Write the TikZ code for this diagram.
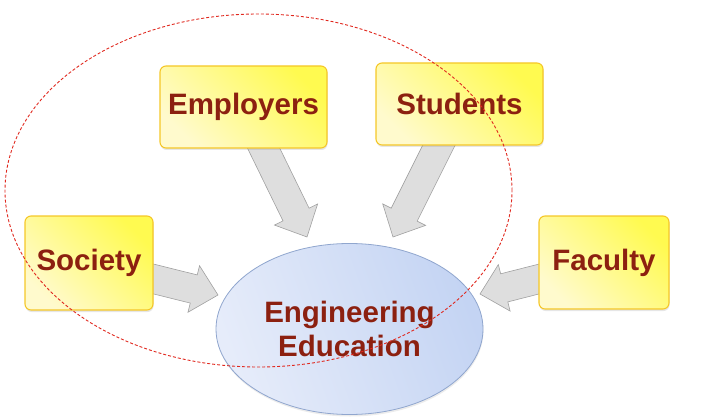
\documentclass[tikz,border=0pt]{standalone}
\usepackage{fontspec}
\setmainfont{Liberation Sans}
\usetikzlibrary{calc,shadows,shapes.geometric}

% block arrow from the centre of a box to a tip coordinate
\newcommand\blockarrow[3]{%
  \coordinate (#3) at ($(#2)!25pt!(#1)$);%
  \draw [arrowbody] ($(#1)!14.5pt!90:(#2)$) -- ($(#3)!14.5pt!-90:(#1)$) -- ($(#3)!24pt!-90:(#1)$) -- (#2) -- ($(#3)!24pt!90:(#1)$) -- ($(#3)!14.5pt!90:(#1)$) -- ($(#1)!14.5pt!-90:(#2)$) -- cycle;%
}

\begin{document}
\begin{tikzpicture}[x=1pt,y=-1pt,
  infobox/.style={rectangle, rounded corners=6pt, draw=r245g199b40, line width=1.1pt,
    left color=r255g250b205, right color=r255g250b80, shading angle=135,
    drop shadow={opacity=0.2, shadow xshift=0.5pt, shadow yshift=-2pt},
    text=r140g32b16, font=\fontsize{29.5}{34}\selectfont\bfseries},
  arrowbody/.style={fill=r222g222b222, draw=r160g160b160, line width=0.6pt, line join=miter},
  dashedring/.style={draw=r224g40b30, line width=0.9pt, dash pattern=on 3pt off 2pt}]

  % Changing colours
  \definecolor{r245g199b40}{rgb}{0.960784,0.780392,0.156863}%
  \definecolor{r255g250b205}{rgb}{1.000000,0.980392,0.803922}%
  \definecolor{r255g250b80}{rgb}{1.000000,0.980392,0.313725}%
  \definecolor{r140g32b16}{rgb}{0.549020,0.125490,0.062745}%
  \definecolor{r222g222b222}{rgb}{0.870588,0.870588,0.870588}%
  \definecolor{r160g160b160}{rgb}{0.627451,0.627451,0.627451}%
  \definecolor{r224g40b30}{rgb}{0.878431,0.156863,0.117647}%
  \definecolor{r230g236b250}{rgb}{0.901961,0.925490,0.980392}%
  \definecolor{r196g212b243}{rgb}{0.768627,0.831373,0.952941}%
  \definecolor{r144g166b206}{rgb}{0.564706,0.650980,0.807843}%

  \useasboundingbox (0,0) rectangle (712,417);

  % Marking tips of the arrows
  \coordinate (employers-tip) at (307,237);
  \coordinate (students-tip) at (393,237);
  \coordinate (society-tip) at (218,295);
  \coordinate (faculty-tip) at (480,294);

  % Placing the boxes (drawn after the arrows)
  \path (243.5,107) coordinate (employers-c) (459.5,104) coordinate (students-c)
        (89,263) coordinate (society-c) (604,262.5) coordinate (faculty-c);

  % Drawing arrows into the ellipse
  \blockarrow{employers-c}{employers-tip}{employers-base}
  \blockarrow{students-c}{students-tip}{students-base}
  \blockarrow{society-c}{society-tip}{society-base}
  \blockarrow{faculty-c}{faculty-tip}{faculty-base}

  % Drawing ellipse Engineering Education
  \node [ellipse, draw=r144g166b206, line width=0.8pt, minimum width=267pt, minimum height=171pt,
    left color=r230g236b250, right color=r196g212b243, shading angle=110,
    drop shadow={opacity=0.15, shadow xshift=0.5pt, shadow yshift=-2pt},
    text=r140g32b16, align=center, font=\fontsize{29.5}{34}\selectfont\bfseries]
    (education) at (349.5,329) {Engineering\\Education};

  % Drawing boxes
  \node [infobox, minimum width=167pt, minimum height=82pt] (employers) at (employers-c) {Employers};
  \node [infobox, minimum width=167pt, minimum height=82pt] (students) at (students-c) {Students};
  \node [infobox, minimum width=128pt, minimum height=94pt] (society) at (society-c) {Society};
  \node [infobox, minimum width=130pt, minimum height=93pt] (faculty) at (faculty-c) {Faculty};

  % Drawing dashed ellipse
  \draw [dashedring] (258.5,190.5) ellipse [x radius=253.5pt, y radius=176.5pt];
\end{tikzpicture}
\end{document}
